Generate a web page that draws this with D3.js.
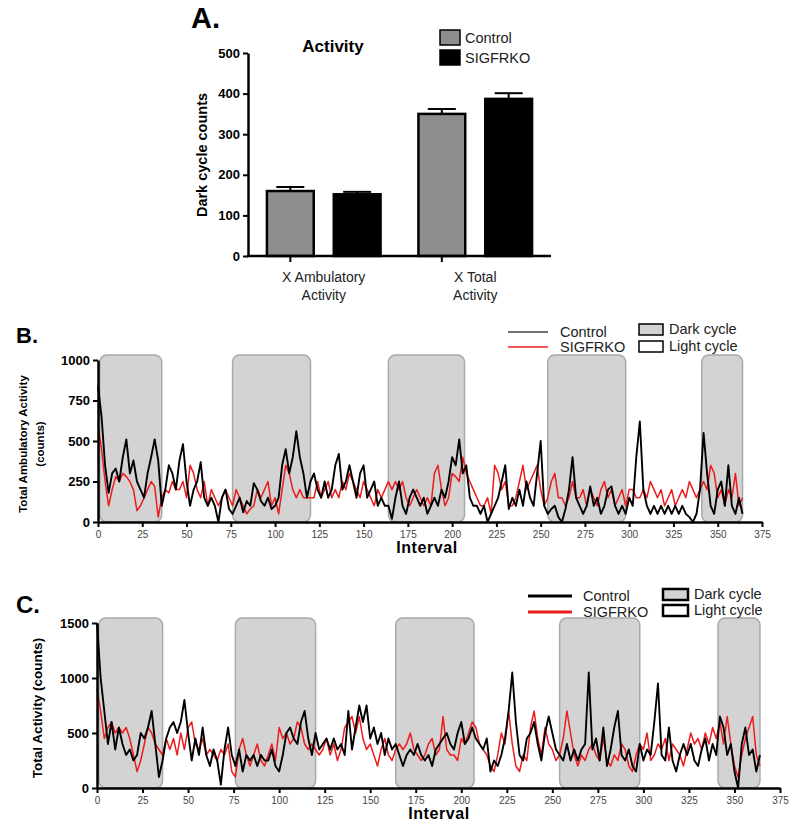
<!DOCTYPE html>
<html>
<head>
<meta charset="utf-8">
<script src="https://cdn.jsdelivr.net/npm/d3@7"></script>
<style>
body{margin:0;background:#fff;}
text{font-family:"Liberation Sans",Arial,sans-serif;}
</style>
</head>
<body>
<script>
// PANEL A DATA
const barGroups = ["X Ambulatory Activity", "X Total Activity"];
const groupLines = [["X Ambulatory", "Activity"], ["X Total", "Activity"]];
const barSeries = ["Control", "SIGFRKO"];
const barMeans = [[160, 152], [350, 387]];
const barErrors = [[10, 6], [12, 14]];
const barTicks = [0, 100, 200, 300, 400, 500];

// PANEL B / C DATA (one value every 2 intervals)
const intervalStep = 2;
const ambCtrl = [
  840,650,350,180,300,330,250,400,510,300,
  380,250,200,150,300,400,510,380,100,200,
  350,300,200,380,480,250,100,200,250,370,
  150,100,150,100,0,150,200,80,50,100,
  150,60,130,100,240,200,130,100,150,80,
  100,150,350,450,300,400,560,400,300,150,
  250,300,200,150,250,150,200,350,420,200,
  250,350,250,150,300,350,150,200,250,100,
  150,100,100,20,150,250,100,50,150,200,
  150,100,150,50,100,150,100,200,150,250,
  400,350,510,300,350,150,100,100,50,100,
  0,50,100,150,250,350,80,150,100,200,
  100,250,150,100,300,500,100,50,80,100,
  30,0,80,200,400,150,100,50,100,220,
  100,150,50,100,200,220,100,50,100,50,
  150,100,400,620,200,100,50,100,50,100,
  50,100,50,100,50,100,50,30,0,50,
  200,550,300,100,50,200,250,100,350,100,
  50,150,50
];
const ambKO = [
  600,450,250,100,200,280,250,300,280,250,
  200,70,100,150,200,250,220,30,150,200,
  180,250,200,200,250,150,350,300,200,150,
  250,100,200,150,100,150,200,150,100,200,
  150,100,50,80,100,200,150,200,250,100,
  150,50,200,350,300,200,150,200,150,150,
  150,150,250,150,200,250,150,200,150,250,
  200,300,250,200,150,250,200,150,100,200,
  150,200,250,200,250,200,250,150,100,150,
  200,150,100,150,100,300,350,200,100,150,
  300,280,250,400,300,250,200,150,100,100,
  150,50,350,300,200,250,100,100,150,250,
  350,200,250,300,350,200,100,150,250,300,
  150,150,100,150,250,150,150,200,100,200,
  150,100,200,250,150,200,100,150,200,100,
  200,200,150,150,200,150,250,200,150,200,
  100,150,200,100,150,200,150,250,200,150,
  200,250,200,350,300,150,200,100,200,150,
  300,100,150
];
const totCtrl = [
  1500,1000,700,400,600,350,550,400,300,350,
  250,300,500,450,550,700,400,100,250,450,
  550,600,500,600,800,500,250,450,300,550,
  300,200,350,250,30,350,550,300,200,350,
  150,300,250,300,200,300,250,250,350,200,
  150,300,500,550,450,400,600,700,450,300,
  500,350,400,450,350,450,350,400,300,700,
  350,550,750,600,750,450,550,400,500,300,
  450,350,400,300,200,300,350,300,400,300,
  250,300,200,350,400,450,500,400,350,500,
  600,400,450,550,450,400,350,450,150,250,
  200,300,450,700,1050,600,300,250,450,500,
  600,400,250,500,650,500,350,300,250,400,
  250,350,250,350,400,1050,350,450,250,550,
  200,350,550,700,300,250,350,200,150,400,
  250,350,300,600,950,300,250,550,250,150,
  300,400,300,400,250,200,350,450,250,400,
  300,650,550,300,400,150,0,400,550,300,
  350,150,300
];
const totKO = [
  900,700,450,550,600,500,550,500,550,450,
  300,150,250,400,550,500,400,350,300,450,
  350,450,300,500,350,550,600,400,350,450,
  300,350,300,250,350,300,400,150,100,350,
  450,300,200,300,400,250,200,300,400,250,
  550,450,500,400,450,600,550,400,350,400,
  350,300,350,450,300,400,250,350,550,600,
  650,500,650,450,350,400,300,200,350,450,
  300,250,350,400,350,400,500,350,300,250,
  300,400,450,300,350,650,350,300,300,250,
  450,400,500,600,550,400,350,300,200,150,
  300,500,400,700,400,200,150,300,250,550,
  700,450,300,550,400,350,250,300,450,700,
  500,300,200,300,250,350,400,300,250,450,
  250,200,300,250,400,350,200,150,300,400,
  350,500,250,300,400,350,450,250,400,350,
  300,200,350,500,400,450,350,500,400,550,
  450,600,400,650,400,200,100,300,450,550,
  650,300,200
];
const darkStart = [1, 76, 164, 254, 341];
const darkEnd = [36, 120, 207, 298, 364];
const intervalTicks = [0,25,50,75,100,125,150,175,200,225,250,275,300,325,350,375];
const ambTicks = [0, 250, 500, 750, 1000];
const totTicks = [0, 500, 1000, 1500];

const FONT = '"Liberation Sans", Arial, sans-serif';
const RED = "#ec1c1c";

const svg = d3.select("body").append("svg")
  .attr("width", 800).attr("height", 835);

// ---------------- PANEL A ----------------
const aX0 = d3.scaleBand().domain(barGroups).range([248, 551])
  .paddingInner(0.25).paddingOuter(0.125);
const aX1 = d3.scaleBand().domain(barSeries).range([0, aX0.bandwidth()])
  .paddingInner(0.3);
const aY = d3.scaleLinear().domain([0, 500]).range([256, 53]);
const barFill = ["#8e8e8e", "#000"];

const pa = svg.append("g");
pa.append("text").attr("x", 191).attr("y", 28).text("A.")
  .attr("font-size", 29).attr("font-weight", "bold");
pa.append("text").attr("x", 333).attr("y", 52).attr("text-anchor", "middle")
  .text("Activity").attr("font-size", 17).attr("font-weight", "bold");

barGroups.forEach((grp, gi) => {
  const gg = pa.append("g").attr("transform", `translate(${aX0(grp)},0)`);
  barSeries.forEach((s, si) => {
    const cx = aX1(s) + aX1.bandwidth() / 2;
    const top = aY(barMeans[gi][si] + barErrors[gi][si]);
    gg.append("line").attr("x1", cx).attr("x2", cx)
      .attr("y1", aY(barMeans[gi][si])).attr("y2", top)
      .attr("stroke", "#000").attr("stroke-width", 2);
    gg.append("line").attr("x1", cx - 14).attr("x2", cx + 14)
      .attr("y1", top).attr("y2", top)
      .attr("stroke", "#000").attr("stroke-width", 2);
    gg.append("rect").attr("x", aX1(s)).attr("width", aX1.bandwidth())
      .attr("y", aY(barMeans[gi][si])).attr("height", aY(0) - aY(barMeans[gi][si]))
      .attr("fill", barFill[si]).attr("stroke", "#000").attr("stroke-width", 2.5);
  });
});

const aYAxis = pa.append("g").attr("transform", "translate(248,0)")
  .call(d3.axisLeft(aY).tickValues(barTicks).tickSize(5).tickSizeOuter(0).tickPadding(3));
aYAxis.selectAll("text").attr("font-size", 13).attr("font-weight", "bold")
  .attr("font-family", FONT).attr("fill", "#000");
aYAxis.select(".domain").attr("stroke-width", 2.5);
aYAxis.selectAll(".tick line").attr("stroke-width", 2);

pa.append("line").attr("x1", 246.75).attr("x2", 551).attr("y1", 256).attr("y2", 256)
  .attr("stroke", "#000").attr("stroke-width", 2.5);
barGroups.forEach((grp, gi) => {
  const tx = aX0(grp) + aX1("Control") + aX1.bandwidth() / 2;
  pa.append("line").attr("x1", tx).attr("x2", tx).attr("y1", 256).attr("y2", 262)
    .attr("stroke", "#000").attr("stroke-width", 2);
  const lbl = pa.append("text").attr("text-anchor", "middle").attr("font-size", 14)
    .attr("fill", "#222");
  groupLines[gi].forEach((t, li) => {
    lbl.append("tspan").attr("x", aX0(grp) + aX0.bandwidth() / 2)
      .attr("y", 282 + li * 18).text(t);
  });
});
pa.append("text").attr("transform", "translate(207,155) rotate(-90)")
  .attr("text-anchor", "middle").attr("font-size", 14.5).attr("font-weight", "bold")
  .text("Dark cycle counts");

// legend A
barSeries.forEach((s, si) => {
  pa.append("rect").attr("x", 440).attr("y", 30 + si * 20).attr("width", 20).attr("height", 15)
    .attr("fill", barFill[si]).attr("stroke", "#000").attr("stroke-width", 1.5);
  pa.append("text").attr("x", 465).attr("y", 43 + si * 20).attr("font-size", 14.5)
    .attr("fill", "#222").text(s);
});

// ---------------- PANELS B / C ----------------
function linePanel(o) {
  const x = d3.scaleLinear().domain([0, 375]).range([o.left, o.right]);
  const y = d3.scaleLinear().domain([0, o.ymax]).range([o.bottom, o.top]);
  const g = svg.append("g");

  g.append("text").attr("x", 16).attr("y", o.labelY).text(o.label)
    .attr("font-size", o.labelSize).attr("font-weight", "bold");

  // dark cycle boxes
  g.selectAll("rect.dark").data(darkStart).join("rect").attr("class", "dark")
    .attr("x", d => x(d)).attr("width", (d, i) => x(darkEnd[i]) - x(d))
    .attr("y", y(o.ymax) - 5).attr("height", y(0) - y(o.ymax) + 5)
    .attr("rx", 7).attr("fill", "#d3d3d3").attr("stroke", "#a9a9a9").attr("stroke-width", 1.5);

  const line = d3.line().x(d => x(d[0])).y(d => y(d[1]));
  g.append("path").datum(o.ko.map((v, i) => [i * intervalStep, v])).attr("d", line)
    .attr("fill", "none").attr("stroke", RED).attr("stroke-width", 1.5)
    .attr("stroke-linejoin", "round");
  g.append("path").datum(o.ctrl.map((v, i) => [i * intervalStep, v])).attr("d", line)
    .attr("fill", "none").attr("stroke", "#000").attr("stroke-width", 1.9)
    .attr("stroke-linejoin", "round");

  const xa = g.append("g").attr("transform", `translate(0,${o.bottom})`)
    .call(d3.axisBottom(x).tickValues(intervalTicks).tickSize(5).tickSizeOuter(0).tickPadding(4));
  xa.selectAll("text").attr("font-size", 10).attr("font-family", FONT).attr("fill", "#444");
  xa.select(".domain").attr("stroke-width", 2.5);
  xa.selectAll(".tick line").attr("stroke-width", 2);

  const ya = g.append("g").attr("transform", `translate(${o.left},0)`)
    .call(d3.axisLeft(y).tickValues(o.ticks).tickFormat(d3.format("d"))
      .tickSize(5).tickSizeOuter(0).tickPadding(3));
  ya.selectAll("text").attr("font-size", 13).attr("font-weight", "bold")
    .attr("font-family", FONT).attr("fill", "#000");
  ya.select(".domain").attr("stroke-width", 2.5);
  ya.selectAll(".tick line").attr("stroke-width", 2);

  g.append("text").attr("x", o.intervalX).attr("y", o.bottom + 31).attr("text-anchor", "middle")
    .attr("font-size", 16).attr("font-weight", "bold").attr("letter-spacing", 0.6)
    .text("Interval");

  const yl = g.append("text").attr("text-anchor", "middle").attr("font-weight", "bold")
    .attr("font-size", o.ylSize)
    .attr("transform", `translate(${o.ylX},${o.ylY}) rotate(-90)`);
  o.yLines.forEach((t, li) => yl.append("tspan").attr("x", 0).attr("dy", li ? o.ylSize * 1.5 : 0).text(t));

  // legend
  const L = o.legend;
  [["Control", L.ctrlColor, L.ctrlWidth], ["SIGFRKO", RED, L.koWidth]].forEach((e, i) => {
    g.append("line").attr("x1", L.lx).attr("x2", L.lx + L.len)
      .attr("y1", L.ly + i * L.gap).attr("y2", L.ly + i * L.gap)
      .attr("stroke", e[1]).attr("stroke-width", e[2]);
    g.append("text").attr("x", L.tx).attr("y", L.ly + i * L.gap + 5)
      .attr("font-size", 14.5).attr("fill", "#222").text(e[0]);
  });
  [["Dark cycle", "#d3d3d3"], ["Light cycle", "#fff"]].forEach((e, i) => {
    g.append("rect").attr("x", L.bx).attr("y", L.by + i * L.bgap).attr("width", L.bw).attr("height", 11)
      .attr("fill", e[1]).attr("stroke", "#000").attr("stroke-width", L.bStroke);
    g.append("text").attr("x", L.bx + L.bw + 6).attr("y", L.by + i * L.bgap + 10)
      .attr("font-size", 14.5).attr("fill", "#222").text(e[0]);
  });
}

linePanel({
  label: "B.", labelY: 343, labelSize: 22,
  left: 98, right: 762, top: 360, bottom: 522, ymax: 1000, ticks: ambTicks,
  ctrl: ambCtrl, ko: ambKO, intervalX: 427,
  yLines: ["Total Ambulatory Activity", "(counts)"], ylX: 27, ylY: 444, ylSize: 11.5,
  legend: { lx: 508, len: 40, ly: 332, gap: 15, tx: 560, ctrlColor: "#707070", ctrlWidth: 2, koWidth: 1.5,
            bx: 639, by: 324, bgap: 17, bw: 24, bStroke: 1.5 }
});

linePanel({
  label: "C.", labelY: 613, labelSize: 24,
  left: 97, right: 780, top: 623, bottom: 788, ymax: 1500, ticks: totTicks,
  ctrl: totCtrl, ko: totKO, intervalX: 439,
  yLines: ["Total Activity (counts)"], ylX: 42, ylY: 708, ylSize: 13.5,
  legend: { lx: 528, len: 44, ly: 596, gap: 16, tx: 583, ctrlColor: "#000", ctrlWidth: 3, koWidth: 3,
            bx: 663, by: 589, bgap: 16, bw: 25, bStroke: 2.5 }
});
</script>
</body>
</html>
